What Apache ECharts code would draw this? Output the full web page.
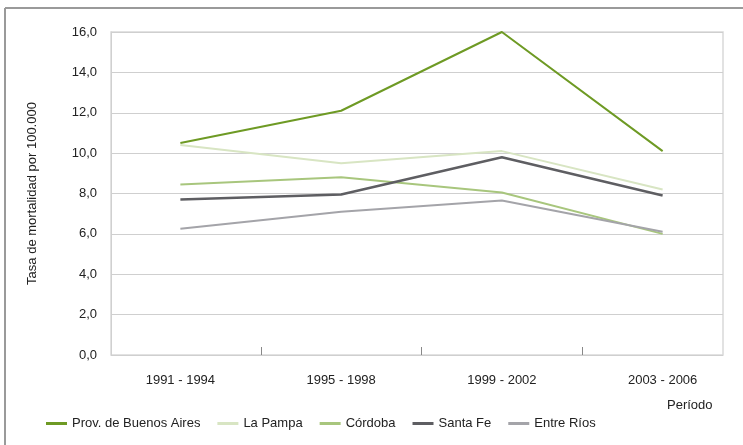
<!DOCTYPE html>
<html lang="es">
<head>
<meta charset="utf-8">
<script src="https://cdn.jsdelivr.net/npm/echarts@6/dist/echarts.min.js"></script>
<style>
  html, body { margin: 0; padding: 0; background: #fff; }
  #main { width: 743px; height: 445px; }
</style>
</head>
<body>
<div id="main"></div>
<script>
// datos
var periodos = ['1991 - 1994', '1995 - 1998', '1999 - 2002', '2003 - 2006'];
var buenosAires = [10.5, 12.1, 16.0, 10.1];
var laPampa = [10.4, 9.5, 10.1, 8.2];
var cordoba = [8.45, 8.8, 8.05, 6.0];
var santaFe = [7.7, 7.95, 9.8, 7.9];
var entreRios = [6.25, 7.1, 7.65, 6.1];

var fuente = "'Liberation Sans Narrow', 'Arial Narrow', 'Liberation Sans', sans-serif";
var chart = echarts.init(document.getElementById('main'));

function serie(nombre, datos, color, ancho) {
    return {
        name: nombre,
        type: 'line',
        xAxisIndex: 1,
        yAxisIndex: 1,
        data: datos,
        symbol: 'none',
        lineStyle: { color: color, width: ancho },
        itemStyle: { color: color },
        animation: false
    };
}

var option = {
    textStyle: { fontFamily: fuente },
    graphic: [
        // marco exterior (arriba e izquierda)
        { type: 'line', shape: { x1: 5, y1: 8, x2: 743, y2: 8 }, style: { stroke: '#9a9a9a', lineWidth: 2 } },
        { type: 'line', shape: { x1: 5, y1: 8, x2: 5, y2: 445 }, style: { stroke: '#9a9a9a', lineWidth: 2 } },
        { type: 'text', left: 667, top: 399, style: { text: 'Período', font: '13px ' + fuente, fill: '#222' } }
    ],
    legend: {
        left: 46,
        top: 417,
        padding: 0,
        icon: 'rect',
        itemWidth: 21,
        itemHeight: 3,
        itemGap: 17,
        textStyle: { fontSize: 13, color: '#222', fontFamily: fuente },
        data: ['Prov. de Buenos Aires', 'La Pampa', 'Córdoba', 'Santa Fe', 'Entre Ríos']
    },
    grid: [
        { left: 111, right: 20, top: 32, bottom: 90, show: true, borderColor: '#d9d9d9', borderWidth: 1.5 },
        { left: 100, right: 0, top: 32, bottom: 90 }
    ],
    xAxis: [
        { type: 'category', gridIndex: 0, data: periodos, show: false },
        {
            type: 'category', gridIndex: 1, data: periodos,
            axisLine: { show: false },
            axisTick: {
                show: true, inside: true, length: 8, lineStyle: { color: '#888' },
                interval: function (index) { return index !== 0; }
            },
            axisLabel: { color: '#222', fontSize: 13, margin: 19, fontFamily: fuente }
        }
    ],
    yAxis: [
        {
            type: 'value', gridIndex: 0, min: 0, max: 16, interval: 2,
            name: 'Tasa de mortalidad por 100.000',
            nameLocation: 'middle',
            nameGap: 72,
            nameTextStyle: { fontSize: 13, color: '#222', fontFamily: fuente },
            axisLine: { show: true, lineStyle: { color: '#d0d0d0' } },
            axisTick: { show: false },
            axisLabel: {
                color: '#222', fontSize: 13, margin: 14, fontFamily: fuente,
                formatter: function (v) { return v.toFixed(1).replace('.', ','); }
            },
            splitLine: { lineStyle: { color: '#cfcfcf', width: 1 } }
        },
        { type: 'value', gridIndex: 1, min: 0, max: 16, show: false }
    ],
    series: [
        serie('Prov. de Buenos Aires', buenosAires, '#6e9a24', 2),
        serie('La Pampa', laPampa, '#d8e5c3', 2),
        serie('Córdoba', cordoba, '#a8c67d', 2),
        serie('Santa Fe', santaFe, '#5e5e62', 2.5),
        serie('Entre Ríos', entreRios, '#a4a4a9', 2)
    ]
};

chart.setOption(option);
</script>
</body>
</html>
